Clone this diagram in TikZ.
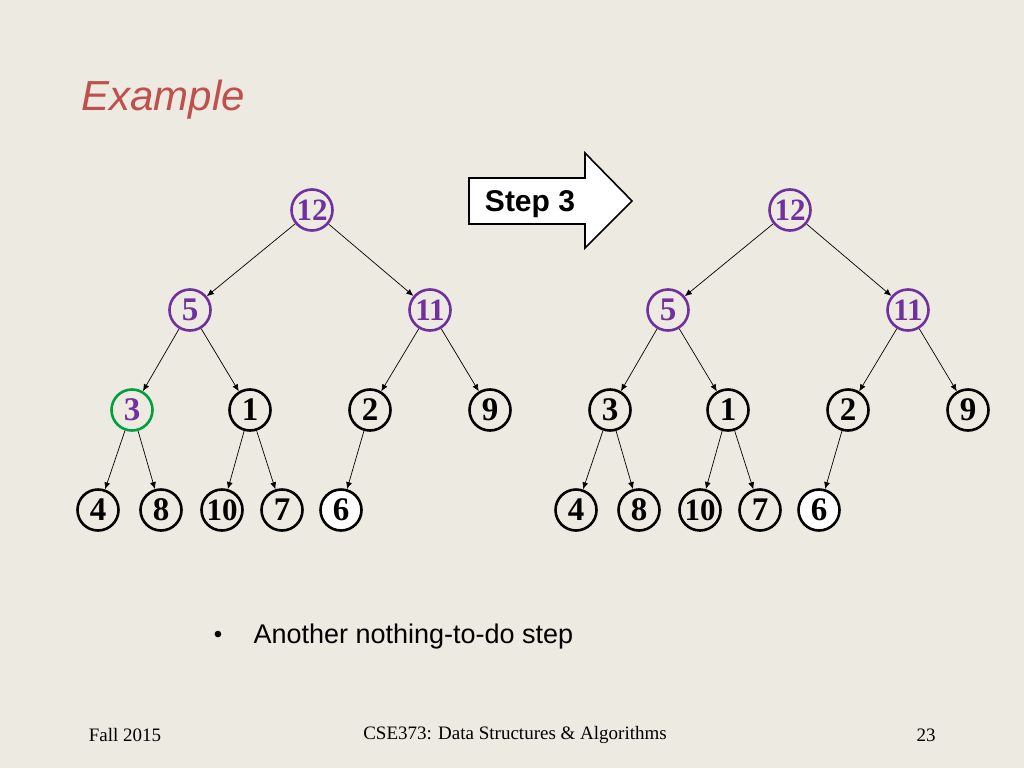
\documentclass[tikz,border=0pt]{standalone}
\usepackage{fontspec}
\setmainfont{Liberation Serif}
\newfontfamily\arialf{Liberation Sans}
\usetikzlibrary{arrows.meta}
\definecolor{bg}{RGB}{237,234,225}
\definecolor{purp}{RGB}{112,48,160}
\definecolor{grn}{RGB}{0,160,60}
\definecolor{titlec}{RGB}{192,80,77}
\begin{document}
\begin{tikzpicture}[x=1pt,y=-1pt,
  hn/.style={circle,draw,line width=2.6pt,minimum size=41pt,inner sep=0pt,font=\fontsize{33}{33}\selectfont\bfseries},
  pn/.style={hn,draw=purp,text=purp},
  gn/.style={hn,draw=grn,text=purp},
  twod/.style={font=\fontsize{31}{31}\selectfont\bfseries},
  ed/.style={-{Latex[length=7pt,width=6pt]},line width=0.7pt}]
\fill[bg] (0,0) rectangle (1024,768);
\useasboundingbox (0,0) rectangle (1024,768);
\node[anchor=west,text=titlec,font=\arialf\itshape\fontsize{42}{42}\selectfont] (title) at (78,100) {Example};
\draw[fill=white,line width=1.6pt] (469,178) -- (585,178) -- (585,153) -- (632,201) -- (585,248) -- (585,224) -- (469,224) -- cycle;
\node[font=\arialf\bfseries\fontsize{30}{30}\selectfont] (steplbl) at (530,204) {Step 3};
\foreach \p/\off/\thr in {L/0/gn,R/478/hn}{
  \node[pn,twod] (\p12) at (312+\off,210) {12};
  \node[pn] (\p5) at (190+\off,310) {5};
  \node[pn,twod] (\p11) at (430+\off,310) {11};
  \node[\thr] (\p3) at (132+\off,410) {3};
  \node[hn] (\p1) at (250+\off,410) {1};
  \node[hn] (\p2) at (370+\off,410) {2};
  \node[hn] (\p9) at (490+\off,410) {9};
  \node[hn] (\p4) at (98+\off,510) {4};
  \node[hn] (\p8) at (161+\off,510) {8};
  \node[hn,twod] (\p10) at (222+\off,510) {10};
  \node[hn] (\p7) at (282+\off,510) {7};
  \node[hn,fill=white] (\p6) at (341+\off,510) {6};
  \draw[ed] (\p12) -- (\p5); \draw[ed] (\p12) -- (\p11);
  \draw[ed] (\p5) -- (\p3); \draw[ed] (\p5) -- (\p1);
  \draw[ed] (\p11) -- (\p2); \draw[ed] (\p11) -- (\p9);
  \draw[ed] (\p3) -- (\p4); \draw[ed] (\p3) -- (\p8);
  \draw[ed] (\p1) -- (\p10); \draw[ed] (\p1) -- (\p7);
  \draw[ed] (\p2) -- (\p6);
}
\node[font=\arialf\fontsize{24}{24}\selectfont] (bul) at (218,637) {•};
\node[anchor=west,font=\arialf\fontsize{27}{27}\selectfont] (btxt) at (250,637) {Another nothing-to-do step};
\node[font=\fontsize{19}{19}\selectfont] (f1) at (125,735) {Fall 2015};
\node[font=\fontsize{19}{19}\selectfont] (f2) at (515,735) {CSE373: Data Structures \& Algorithms};
\node[font=\fontsize{19}{19}\selectfont] (f3) at (926,735) {23};
\end{tikzpicture}
\end{document}
